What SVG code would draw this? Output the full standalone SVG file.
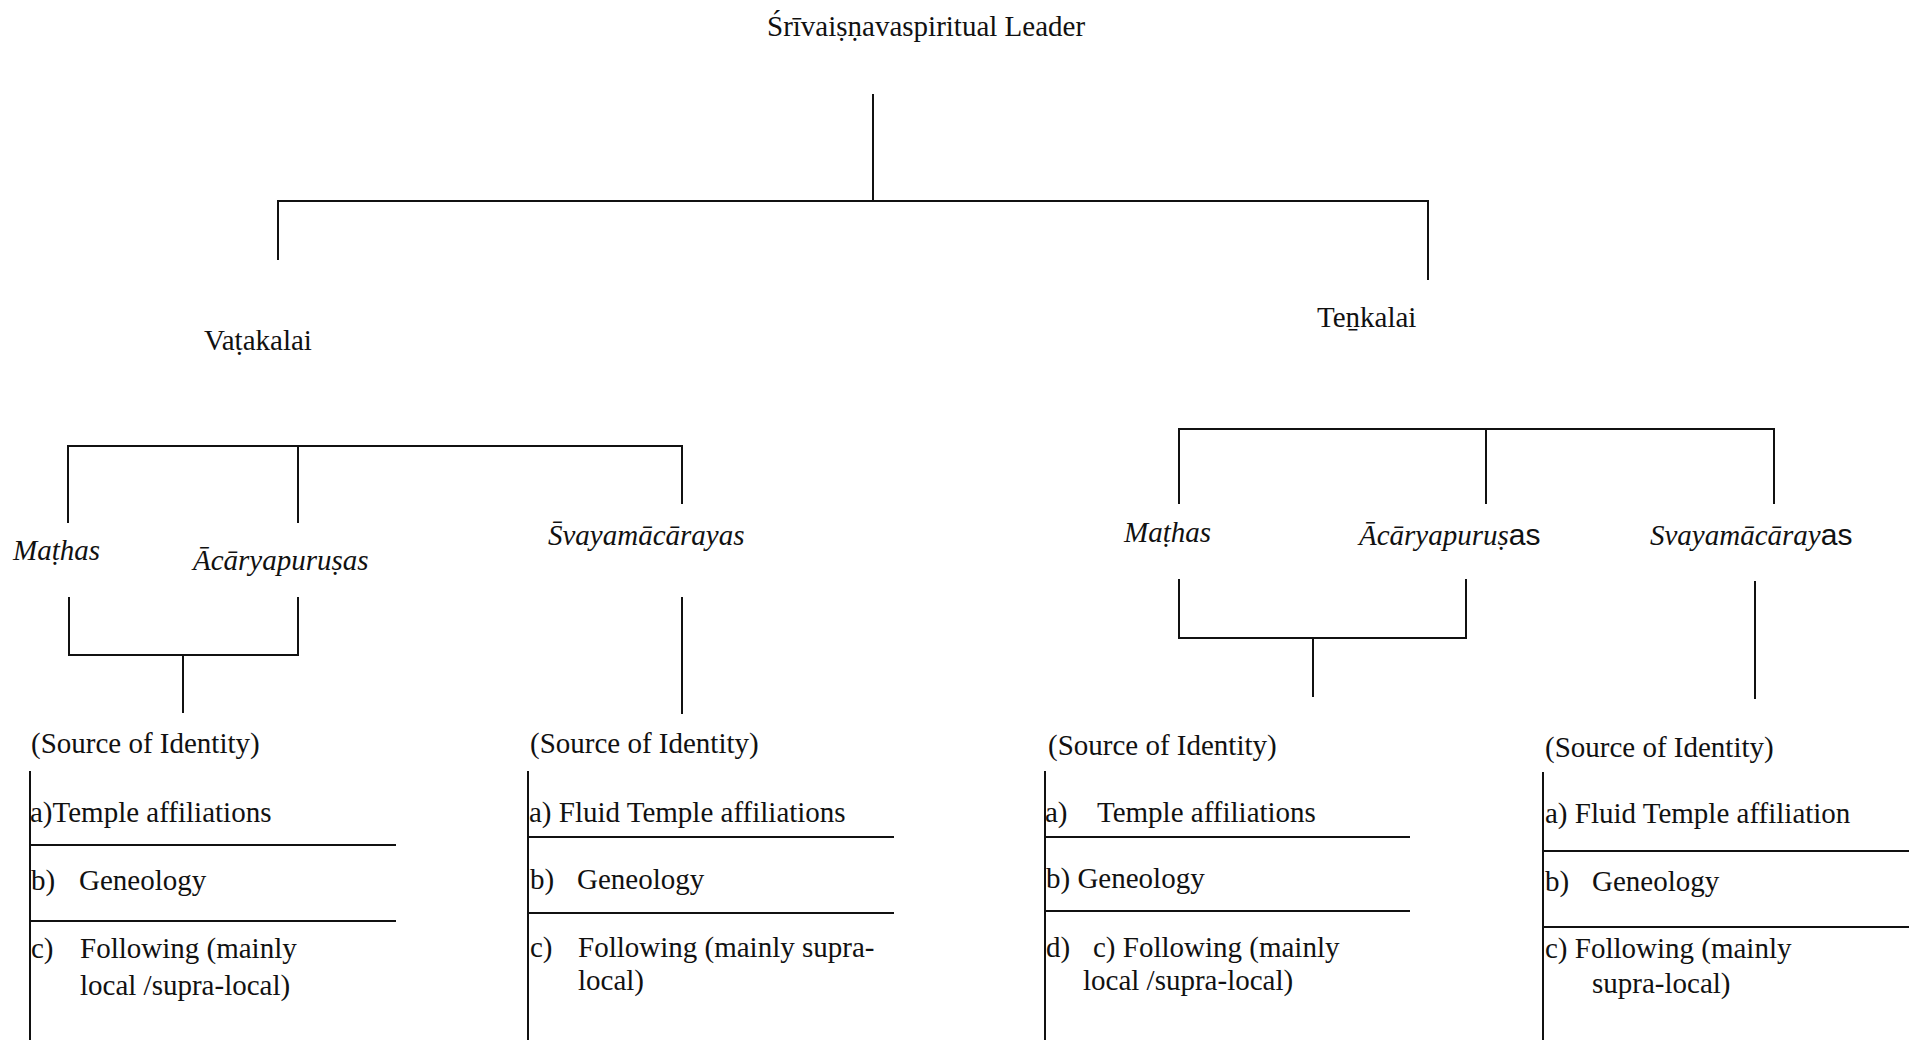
<svg xmlns="http://www.w3.org/2000/svg" width="1914" height="1040" viewBox="0 0 1914 1040">
<style>
  text { font-family: "Liberation Serif", "DejaVu Serif", serif; font-size: 29px; fill: #111; }
  .it { font-style: italic; }
  .sans { font-family: "Liberation Sans", "DejaVu Sans", sans-serif; font-style: normal; font-size: 30px; }
  .ln { stroke: #111; stroke-width: 2; fill: none; stroke-linecap: square; }
</style>
<rect width="1914" height="1040" fill="#fff"/>

<g id="connectors">
  <path class="ln" d="M873 95 V201 M278 201 H1428 M278 201 V259 M1428 201 V279"/>
  <path class="ln" d="M68 446 H682 M68 446 V522 M298 446 V522 M682 446 V503"/>
  <path class="ln" d="M69 598 V655 H298 V598 M183 655 V712 M682 598 V713"/>
  <path class="ln" d="M1179 429 H1774 M1179 429 V503 M1486 429 V503 M1774 429 V503"/>
  <path class="ln" d="M1179 580 V638 H1466 V580 M1313 638 V696 M1755 582 V698"/>
</g>

<g id="leader"><text x="767" y="36">Śrīvaiṣṇavaspiritual Leader</text></g>
<g id="vatakalai"><text x="204" y="350">Vaṭakalai</text></g>
<g id="tenkalai"><text x="1317" y="327">Teṉkalai</text></g>

<g id="v-mathas"><text class="it" x="13" y="560">Maṭhas</text></g>
<g id="v-acarya"><text class="it" x="193" y="570">Ācāryapuruṣas</text></g>
<g id="v-svayam"><text class="it" x="548" y="545">S̄vayamācārayas</text></g>

<g id="t-mathas"><text class="it" x="1124" y="542">Maṭhas</text></g>
<g id="t-acarya"><text class="it" x="1359" y="545">Ācāryapuruṣ<tspan class="sans">as</tspan></text></g>
<g id="t-svayam"><text class="it" x="1650" y="545">Svayamācāray<tspan class="sans">as</tspan></text></g>

<g id="box1">
  <path class="ln" d="M30 772 V1040 M30 845 H395 M30 921 H395"/>
  <text x="31" y="753">(Source of Identity)</text>
  <text x="30" y="822">a)Temple affiliations</text>
  <text x="31" y="890">b)<tspan x="79">Geneology</tspan></text>
  <text x="31" y="958">c)<tspan x="80">Following (mainly</tspan></text>
  <text x="80" y="995">local /supra-local)</text>
</g>

<g id="box2">
  <path class="ln" d="M528 772 V1040 M528 837 H893 M528 913 H893"/>
  <text x="530" y="753">(Source of Identity)</text>
  <text x="529" y="822">a) Fluid Temple affiliations</text>
  <text x="530" y="889">b)<tspan x="577">Geneology</tspan></text>
  <text x="530" y="957">c)<tspan x="578">Following (mainly supra-</tspan></text>
  <text x="578" y="990">local)</text>
</g>

<g id="box3">
  <path class="ln" d="M1045 772 V1040 M1045 837 H1409 M1045 911 H1409"/>
  <text x="1048" y="755">(Source of Identity)</text>
  <text x="1045" y="822">a)<tspan x="1097">Temple affiliations</tspan></text>
  <text x="1046" y="888">b) Geneology</text>
  <text x="1046" y="957">d)<tspan x="1093">c) Following (mainly</tspan></text>
  <text x="1083" y="990">local /supra-local)</text>
</g>

<g id="box4">
  <path class="ln" d="M1543 773 V1040 M1543 851 H1908 M1543 927 H1908"/>
  <text x="1545" y="757">(Source of Identity)</text>
  <text x="1545" y="823">a) Fluid Temple affiliation</text>
  <text x="1545" y="891">b)<tspan x="1592">Geneology</tspan></text>
  <text x="1545" y="958">c) Following (mainly</text>
  <text x="1592" y="993">supra-local)</text>
</g>
</svg>
